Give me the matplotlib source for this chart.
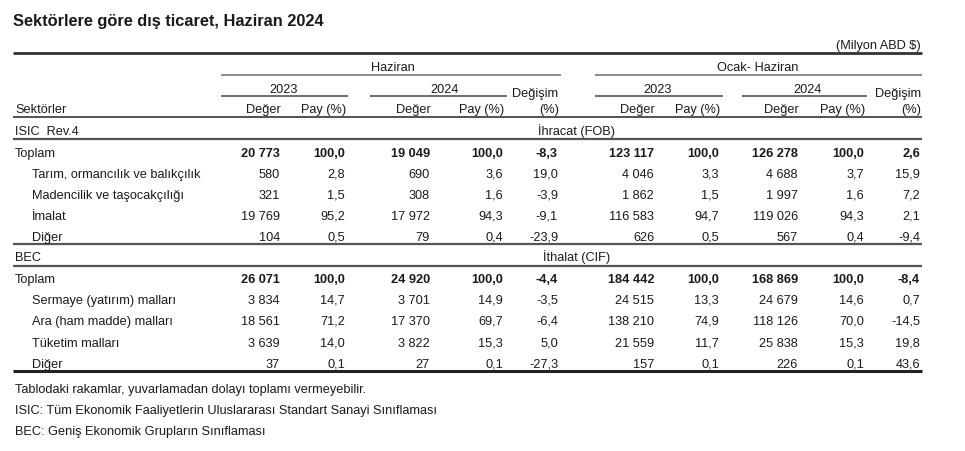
import matplotlib
matplotlib.use("Agg")
import numpy as np
import matplotlib.pyplot as plt
from matplotlib.transforms import IdentityTransform

plt.rcParams['font.family'] = ['Liberation Sans', 'DejaVu Sans']

# ---- data ----
isic_labels = ["Toplam", "Tarım, ormancılık ve balıkçılık", "Madencilik ve taşocakçılığı", "İmalat", "Diğer"]
haz23_val_isic = [20773, 580, 321, 19769, 104]
haz23_pay_isic = [100.0, 2.8, 1.5, 95.2, 0.5]
haz24_val_isic = [19049, 690, 308, 17972, 79]
haz24_pay_isic = [100.0, 3.6, 1.6, 94.3, 0.4]
haz_chg_isic = [-8.3, 19.0, -3.9, -9.1, -23.9]
oh23_val_isic = [123117, 4046, 1862, 116583, 626]
oh23_pay_isic = [100.0, 3.3, 1.5, 94.7, 0.5]
oh24_val_isic = [126278, 4688, 1997, 119026, 567]
oh24_pay_isic = [100.0, 3.7, 1.6, 94.3, 0.4]
oh_chg_isic = [2.6, 15.9, 7.2, 2.1, -9.4]

bec_labels = ["Toplam", "Sermaye (yatırım) malları", "Ara (ham madde) malları", "Tüketim malları", "Diğer"]
haz23_val_bec = [26071, 3834, 18561, 3639, 37]
haz23_pay_bec = [100.0, 14.7, 71.2, 14.0, 0.1]
haz24_val_bec = [24920, 3701, 17370, 3822, 27]
haz24_pay_bec = [100.0, 14.9, 69.7, 15.3, 0.1]
haz_chg_bec = [-4.4, -3.5, -6.4, 5.0, -27.3]
oh23_val_bec = [184442, 24515, 138210, 21559, 157]
oh23_pay_bec = [100.0, 13.3, 74.9, 11.7, 0.1]
oh24_val_bec = [168869, 24679, 118126, 25838, 226]
oh24_pay_bec = [100.0, 14.6, 70.0, 15.3, 0.1]
oh_chg_bec = [-8.4, 0.7, -14.5, 19.8, 43.6]

years = ["2023", "2024", "2023", "2024"]
heads = ["Değer", "Pay (%)", "Değer", "Pay (%)", "(%)", "Değer", "Pay (%)", "Değer", "Pay (%)", "(%)"]
notes = ["Tablodaki rakamlar, yuvarlamadan dolayı toplamı vermeyebilir.",
         "ISIC: Tüm Ekonomik Faaliyetlerin Uluslararası Standart Sanayi Sınıflaması",
         "BEC: Geniş Ekonomik Grupların Sınıflaması"]

# ---- layout (pixel coords) ----
W, H = 965, 452
FS = 9.2
TXT = '#1a1a1a'
col_right = [280, 345, 430, 503, 558, 654, 719, 798, 864, 920]
col_kind = ['v', 'p', 'v', 'p', 'p', 'v', 'p', 'v', 'p', 'p']
L, R = 13, 922
row_step = 21.2


def fmt_val(v):
    return f"{v:,}".replace(",", " ")


def fmt_pct(v):
    return f"{v:.1f}".replace(".", ",")


# agg places strings with descenders (commas) a pixel or two off;
# measure that on a scratch canvas using a leading "H" as a marker
probe = plt.figure(figsize=(6, 0.6), dpi=100)
_cache = {}


def _h_top(s, size, weight):
    probe.clf()
    probe.text(10, 29.98, s, transform=IdentityTransform(), va='baseline',
               fontsize=size, fontweight=weight, color='k')
    probe.canvas.draw()
    img = np.asarray(probe.canvas.buffer_rgba())[:, 11:16, 0]
    rows = np.where((img < 150).any(axis=1))[0]
    return rows[0] if len(rows) else 0


def shift_of(s, size, weight):
    key = (s, size, weight)
    if key not in _cache:
        _cache[key] = _h_top("H" + s, size, weight) - _h_top("H", size, weight)
    return _cache[key]


fig = plt.figure(figsize=(W / 100, H / 100), dpi=100)
ax = fig.add_axes([0, 0, 1, 1])
ax.set_xlim(0, W)
ax.set_ylim(H, 0)
ax.axis('off')


def hline(y, x0, x1, lw, c):
    ax.plot([x0, x1], [y, y], color=c, lw=lw, solid_capstyle='butt')


def txt(x, y, s, ha='left', bold=False, size=FS):
    # y = visual middle of the capitals
    weight = 'bold' if bold else 'normal'
    off = size * 100 / 72 * 0.716 / 2
    base = round(y + off) + 0.02 - shift_of(s, size, weight)
    ax.text(x, base, s, ha=ha, va='baseline', fontsize=size, color=TXT,
            fontweight=weight)


txt(13, 20, "Sektörlere göre dış ticaret, Haziran 2024", bold=True, size=11.8)
txt(921, 44, "(Milyon ABD $)", ha='right')

hline(54, L, R, 2.0, '#333333')
txt(393, 66, "Haziran", ha='center')
txt(758, 66, "Ocak- Haziran", ha='center')
hline(76, 221, 561, 1.2, '#777777')
hline(76, 595, R, 1.2, '#777777')

for yr, (cx, x0, x1) in zip(years, [(284, 221, 348), (445, 370, 507), (658, 595, 723), (808, 742, 867)]):
    txt(cx, 88, yr, ha='center')
    hline(97, x0, x1, 1.2, '#555555')

txt(558, 92, "Değişim", ha='right')
txt(921, 92, "Değişim", ha='right')
txt(15, 108, "Sektörler")
for x, h in zip(col_right, heads):
    txt(x + 1, 108, h, ha='right')
hline(118, L, R, 1.3, '#444444')


def block(y_head, section, labels, cols, y_line_top):
    txt(15, y_head, section[0])
    txt(577, y_head, section[1], ha='center')
    hline(y_line_top, L, R, 1.6, '#555555')
    for i, lab in enumerate(labels):
        y = y_line_top + 12 + i * row_step
        bold = i == 0
        txt(15 if i == 0 else 32, y, lab)
        for x, k, data in zip(col_right, col_kind, cols):
            s = fmt_val(data[i]) if k == 'v' else fmt_pct(data[i])
            txt(x, y, s, ha='right', bold=bold)


block(130, ("ISIC  Rev.4", "İhracat (FOB)"), isic_labels,
      [haz23_val_isic, haz23_pay_isic, haz24_val_isic, haz24_pay_isic, haz_chg_isic,
       oh23_val_isic, oh23_pay_isic, oh24_val_isic, oh24_pay_isic, oh_chg_isic], 140)
hline(245, L, R, 1.6, '#555555')
block(256, ("BEC", "İthalat (CIF)"), bec_labels,
      [haz23_val_bec, haz23_pay_bec, haz24_val_bec, haz24_pay_bec, haz_chg_bec,
       oh23_val_bec, oh23_pay_bec, oh24_val_bec, oh24_pay_bec, oh_chg_bec], 266.5)
hline(372, L, R, 2.2, '#222222')

for i, n in enumerate(notes):
    txt(15, 388 + i * 21, n)

fig.savefig("out.png", dpi=100)
